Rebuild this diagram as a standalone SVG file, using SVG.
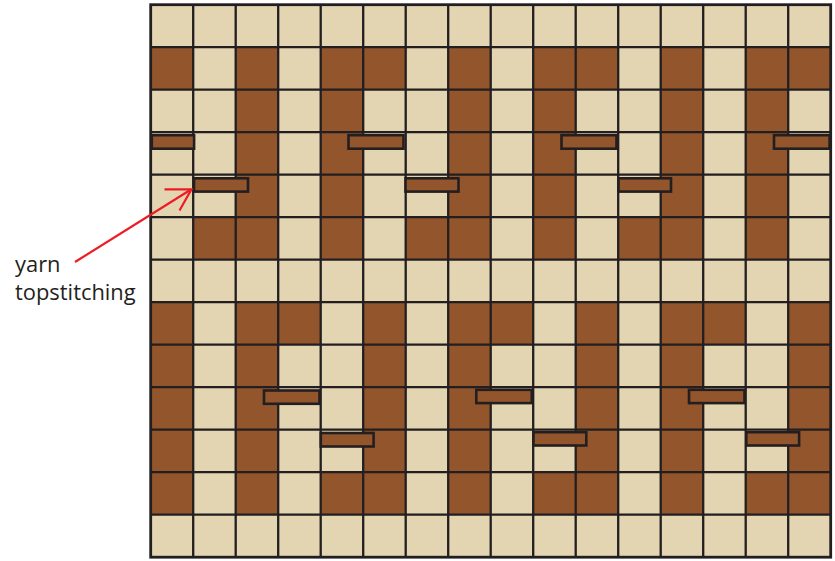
<svg xmlns="http://www.w3.org/2000/svg" width="835" height="561" viewBox="0 0 835 561">
<defs>
<style>
.L{fill:#e3d5b2}
.D{fill:#93552c}
.grid{stroke:#231f20;stroke-width:2.3;fill:none}
.bar{fill:#93552c;stroke:#231f20;stroke-width:2.6}
.lbl{font-family:"Open Sans","Liberation Sans",sans-serif;font-size:21.9px;fill:#231f20}
.arrow{stroke:#ed1c24;stroke-width:2.2;fill:none;stroke-linecap:butt}
</style>
</defs>
<rect width="835" height="561" fill="#ffffff"/>
<g id="weave">
<rect class="L" x="150.7" y="4.7" width="680" height="552.5"/>
<g id="dark-cells" class="D">
<rect x="150.7" y="47.2" width="42.5" height="42.5"/><rect x="235.7" y="47.2" width="42.5" height="42.5"/><rect x="320.7" y="47.2" width="85" height="42.5"/><rect x="448.2" y="47.2" width="42.5" height="42.5"/><rect x="533.2" y="47.2" width="85" height="42.5"/><rect x="660.7" y="47.2" width="42.5" height="42.5"/><rect x="745.7" y="47.2" width="85" height="42.5"/>
<rect x="235.7" y="89.7" width="42.5" height="127.5"/><rect x="320.7" y="89.7" width="42.5" height="127.5"/><rect x="448.2" y="89.7" width="42.5" height="127.5"/><rect x="533.2" y="89.7" width="42.5" height="127.5"/><rect x="660.7" y="89.7" width="42.5" height="127.5"/><rect x="745.7" y="89.7" width="42.5" height="127.5"/>
<rect x="193.2" y="217.2" width="85" height="42.5"/><rect x="320.7" y="217.2" width="42.5" height="42.5"/><rect x="405.7" y="217.2" width="85" height="42.5"/><rect x="533.2" y="217.2" width="42.5" height="42.5"/><rect x="618.2" y="217.2" width="85" height="42.5"/><rect x="745.7" y="217.2" width="42.5" height="42.5"/>
<rect x="150.7" y="302.2" width="42.5" height="42.5"/><rect x="235.7" y="302.2" width="85" height="42.5"/><rect x="363.2" y="302.2" width="42.5" height="42.5"/><rect x="448.2" y="302.2" width="85" height="42.5"/><rect x="575.7" y="302.2" width="42.5" height="42.5"/><rect x="660.7" y="302.2" width="85" height="42.5"/><rect x="788.2" y="302.2" width="42.5" height="42.5"/>
<rect x="150.7" y="344.7" width="42.5" height="170"/><rect x="235.7" y="344.7" width="42.5" height="127.5"/><rect x="363.2" y="344.7" width="42.5" height="127.5"/><rect x="448.2" y="344.7" width="42.5" height="127.5"/><rect x="575.7" y="344.7" width="42.5" height="127.5"/><rect x="660.7" y="344.7" width="42.5" height="127.5"/><rect x="788.2" y="344.7" width="42.5" height="170"/>
<rect x="235.7" y="472.2" width="42.5" height="42.5"/><rect x="320.7" y="472.2" width="85" height="42.5"/><rect x="448.2" y="472.2" width="42.5" height="42.5"/><rect x="533.2" y="472.2" width="85" height="42.5"/><rect x="660.7" y="472.2" width="42.5" height="42.5"/><rect x="745.7" y="472.2" width="42.5" height="42.5"/>
</g>
<g id="grid-lines" class="grid">
<path d="M193.2 4.7V557.2M235.7 4.7V557.2M278.2 4.7V557.2M320.7 4.7V557.2M363.2 4.7V557.2M405.7 4.7V557.2M448.2 4.7V557.2M490.7 4.7V557.2M533.2 4.7V557.2M575.7 4.7V557.2M618.2 4.7V557.2M660.7 4.7V557.2M703.2 4.7V557.2M745.7 4.7V557.2M788.2 4.7V557.2"/>
<path d="M150.7 47.2H830.7M150.7 89.7H830.7M150.7 132.2H830.7M150.7 174.7H830.7M150.7 217.2H830.7M150.7 259.7H830.7M150.7 302.2H830.7M150.7 344.7H830.7M150.7 387.2H830.7M150.7 429.7H830.7M150.7 472.2H830.7M150.7 514.7H830.7"/>
<rect x="150.7" y="4.7" width="680" height="552.5" stroke-width="2.8"/>
</g>
</g>
<g id="topstitching">
<rect class="bar" x="151.8" y="135.2" width="42.3" height="13.5"/>
<rect class="bar" x="348.5" y="135.2" width="55" height="13.5"/>
<rect class="bar" x="561.5" y="135.2" width="55" height="13.5"/>
<rect class="bar" x="774" y="135.2" width="55.6" height="13.5"/>
<rect class="bar" x="194" y="178.3" width="54" height="13.3"/>
<rect class="bar" x="405.5" y="178.3" width="53" height="13.3"/>
<rect class="bar" x="618.5" y="178.3" width="52.5" height="13.3"/>
<rect class="bar" x="264" y="390.5" width="55.5" height="13.3"/>
<rect class="bar" x="476.3" y="389.8" width="55.5" height="13.3"/>
<rect class="bar" x="689" y="389.8" width="55.5" height="13.3"/>
<rect class="bar" x="320.8" y="433" width="52.8" height="13.5"/>
<rect class="bar" x="533.5" y="432.2" width="52.8" height="13.3"/>
<rect class="bar" x="746.3" y="432.2" width="52.8" height="13.3"/>
</g>
<g id="label">
<text class="lbl" x="15" y="271.7">yarn</text>
<text class="lbl" x="15" y="300">topstitching</text>
</g>
<g id="connectors">
<path class="arrow" d="M75 262L191 189.5"/>
<path class="arrow" d="M164.5 189.3L191.5 189.3L179.5 210.5"/>
</g>
</svg>
